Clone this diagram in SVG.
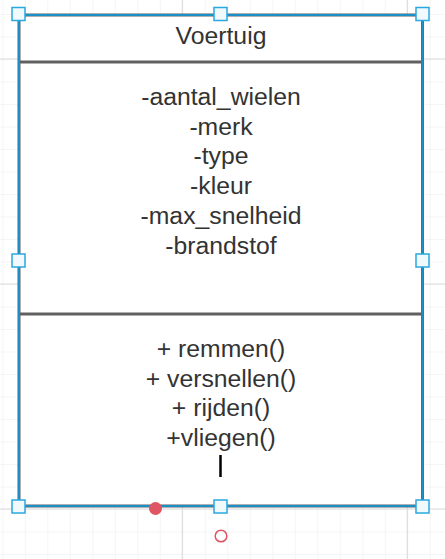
<svg xmlns="http://www.w3.org/2000/svg" width="445" height="559" viewBox="0 0 445 559">
  <style>
    .grid { stroke: #ececec; stroke-width: 1; }
    .grid-major { stroke: #dcdcdc; stroke-width: 1.2; }
    .label { font-family: "Liberation Sans", Arial, sans-serif; font-size: 24.75px; fill: #333333; text-anchor: middle; }
    .frame { fill: #ffffff; stroke: #606060; stroke-width: 3; }
    .sel { fill: none; stroke: #1d8fc7; stroke-width: 2; }
    .divider { stroke: #606060; stroke-width: 3; }
    .handle { fill: #f2f9fd; stroke: #29a8e0; stroke-width: 1.5; }
    .pin { fill: #e05563; }
    .pin-open { fill: none; stroke: #e05563; stroke-width: 1.5; }
  </style>
  <defs>
    <pattern id="gridMinor" width="22.5" height="22.5" patternUnits="userSpaceOnUse" x="2.3" y="14">
      <path d="M0 0 H22.5 M0 0 V22.5" class="grid" fill="none"/>
    </pattern>
  </defs>

  <!-- canvas background with grid -->
  <rect x="0" y="0" width="445" height="559" fill="#ffffff"/>
  <rect x="0" y="0" width="445" height="559" fill="url(#gridMinor)"/>
  <g id="grid-major">
    <line class="grid-major" x1="182.3" y1="0" x2="182.3" y2="559"/>
    <line class="grid-major" x1="407.3" y1="0" x2="407.3" y2="559"/>
    <line class="grid-major" x1="0" y1="59" x2="445" y2="59"/>
    <line class="grid-major" x1="0" y1="284" x2="445" y2="284"/>
    <line class="grid-major" x1="0" y1="509" x2="445" y2="509"/>
  </g>

  <!-- class box: Voertuig -->
  <g id="voertuig">
    <rect class="frame" x="19" y="15" width="403.5" height="491"/>
    <line class="divider" x1="19" y1="62" x2="422.5" y2="62"/>
    <line class="divider" x1="19" y1="314" x2="422.5" y2="314"/>
    <text class="label" x="221" y="44">Voertuig</text>
    <g id="attributes">
      <text class="label" x="221" y="105">-aantal_wielen</text>
      <text class="label" x="221" y="134.7">-merk</text>
      <text class="label" x="221" y="164.4">-type</text>
      <text class="label" x="221" y="194.1">-kleur</text>
      <text class="label" x="221" y="223.8">-max_snelheid</text>
      <text class="label" x="221" y="253.5">-brandstof</text>
    </g>
    <g id="methods">
      <text class="label" x="221" y="357">+ remmen()</text>
      <text class="label" x="221" y="386.7">+ versnellen()</text>
      <text class="label" x="221" y="416.4">+ rijden()</text>
      <text class="label" x="221" y="446.1">+vliegen()</text>
    </g>
    <!-- text caret -->
    <line x1="220.5" y1="455" x2="220.5" y2="477" stroke="#000000" stroke-width="2.5"/>
  </g>

  <!-- selection outline and resize handles -->
  <g id="selection">
    <rect class="sel" x="19" y="15" width="403.5" height="491"/>
    <rect class="handle" x="12" y="7.5" width="13" height="13"/>
    <rect class="handle" x="214" y="7.5" width="13" height="13"/>
    <rect class="handle" x="416" y="7.5" width="13" height="13"/>
    <rect class="handle" x="12" y="254" width="13" height="13"/>
    <rect class="handle" x="416" y="254" width="13" height="13"/>
    <rect class="handle" x="12" y="500" width="13" height="13"/>
    <rect class="handle" x="214" y="500" width="13" height="13"/>
    <rect class="handle" x="416" y="500" width="13" height="13"/>
    <circle class="pin" cx="155.5" cy="508.5" r="6.5"/>
    <circle class="pin-open" cx="221" cy="536" r="5.8"/>
  </g>
</svg>
